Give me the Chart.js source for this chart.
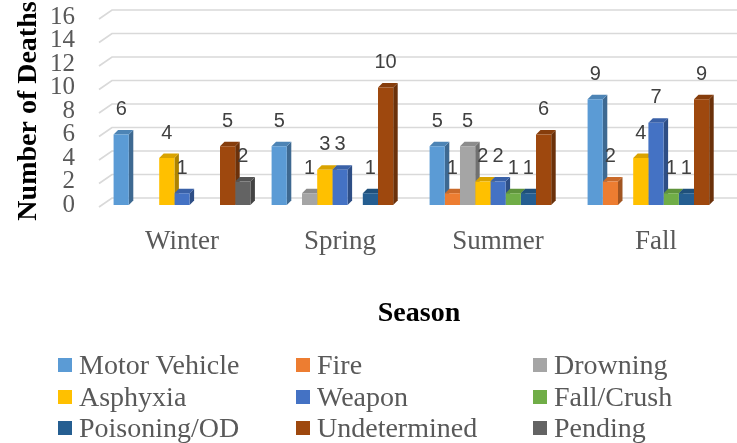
<!DOCTYPE html>
<html>
<head>
<meta charset="utf-8">
<script src="https://cdn.jsdelivr.net/npm/chart.js@4.4.1/dist/chart.umd.min.js"></script>
<style>
  html, body { margin: 0; padding: 0; background: #fff; }
  #wrap { position: relative; width: 737px; height: 443px; }
  #legend { position: absolute; left: 0; top: 0; width: 737px; height: 443px; pointer-events: none;
            font-family: 'Liberation Serif', 'Times New Roman', serif; font-size: 28px; color: #595959; }
  .item { position: absolute; height: 32px; line-height: 32px; white-space: nowrap; }
  .sw { position: absolute; left: 0; top: 9px; width: 14px; height: 14px; }
  .lbl { position: absolute; left: 21px; top: 0; }
</style>
</head>
<body>
<div id="wrap">
  <canvas id="c" width="737" height="443"></canvas>
  <div id="legend"></div>
</div>
<script>
const seasons = ['Winter', 'Spring', 'Summer', 'Fall'];
const causes = ['Motor Vehicle', 'Fire', 'Drowning', 'Asphyxia', 'Weapon',
                'Fall/Crush', 'Poisoning/OD', 'Undetermined', 'Pending'];
const colors = ['#5B9BD5', '#ED7D31', '#A5A5A5', '#FFC000', '#4472C4',
                '#70AD47', '#255E91', '#9E480E', '#636363'];

// deaths per season, null = no bar
const motorVehicle = [6, 5, 5, 9];
const fire         = [null, null, 1, 2];
const drowning     = [null, 1, 5, null];
const asphyxia     = [4, 3, 2, 4];
const weapon       = [1, 3, 2, 7];
const fallCrush    = [null, null, 1, 1];
const poisoning    = [null, 1, 1, 1];
const undetermined = [5, 10, 6, 9];
const pending      = [2, null, null, null];
const series = [motorVehicle, fire, drowning, asphyxia, weapon,
                fallCrush, poisoning, undetermined, pending];

const yTicks = [0, 2, 4, 6, 8, 10, 12, 14, 16];

const SERIF = "'Liberation Serif', 'Times New Roman', serif";
const D = 4.5; // bar depth

function shade(hex, f) {
  const n = parseInt(hex.slice(1), 16);
  const r = Math.round(((n >> 16) & 255) * f);
  const g = Math.round(((n >> 8) & 255) * f);
  const b = Math.round((n & 255) * f);
  return `rgb(${r},${g},${b})`;
}

// back-wall gridlines, then side/top faces of every bar;
// the front faces drawn by Chart.js afterwards cover the hidden parts
const depth3d = {
  id: 'depth3d',
  beforeDatasetsDraw(chart) {
    const { ctx } = chart;
    const ys = chart.scales.y;
    ctx.save();
    ctx.strokeStyle = '#d9d9d9';
    ctx.lineWidth = 1.7;
    yTicks.forEach(v => {
      const p = ys.getPixelForValue(v);
      ctx.beginPath();
      ctx.moveTo(99, p + 2);
      ctx.lineTo(112, p - 7);
      ctx.lineTo(737, p - 7);
      ctx.stroke();
    });
    chart.data.datasets.forEach((ds, i) => {
      chart.getDatasetMeta(i).data.forEach((bar, j) => {
        if (series[i][j] == null) return;
        const { x, y, base, width } = bar.getProps(['x', 'y', 'base', 'width'], true);
        const l = x - width / 2, r = x + width / 2;
        ctx.fillStyle = shade(colors[i], 0.68);
        ctx.beginPath();
        ctx.moveTo(r, y); ctx.lineTo(r + D, y - D);
        ctx.lineTo(r + D, base - D); ctx.lineTo(r, base);
        ctx.closePath(); ctx.fill();
        ctx.fillStyle = shade(colors[i], 0.85);
        ctx.beginPath();
        ctx.moveTo(l, y); ctx.lineTo(l + D, y - D);
        ctx.lineTo(r + D, y - D); ctx.lineTo(r, y);
        ctx.closePath(); ctx.fill();
      });
    });
    ctx.restore();
  }
};

const valueLabels = {
  id: 'valueLabels',
  afterDatasetsDraw(chart) {
    const { ctx } = chart;
    ctx.save();
    ctx.font = "20px 'Liberation Sans', Arial, sans-serif";
    ctx.fillStyle = '#404040';
    ctx.textAlign = 'center';
    ctx.textBaseline = 'middle';
    chart.data.datasets.forEach((ds, i) => {
      chart.getDatasetMeta(i).data.forEach((bar, j) => {
        const v = series[i][j];
        if (v == null) return;
        ctx.fillText(String(v), bar.x, bar.y - 25);
      });
    });
    ctx.restore();
  }
};

new Chart(document.getElementById('c'), {
  type: 'bar',
  data: {
    labels: seasons,
    datasets: causes.map((name, i) => ({
      label: name,
      data: series[i],
      backgroundColor: colors[i],
      borderWidth: 0,
      barPercentage: 1,
      categoryPercentage: 0.866,
    })),
  },
  options: {
    responsive: false,
    animation: false,
    devicePixelRatio: 1,
    layout: { padding: { top: 17, right: 2, bottom: 0, left: 0 } },
    plugins: { legend: { display: false }, tooltip: { enabled: false } },
    scales: {
      x: {
        grid: { display: false, drawTicks: false },
        border: { display: false },
        ticks: { color: '#595959', font: { family: SERIF, size: 27 }, padding: 21 },
        title: { display: true, text: 'Season', color: '#000',
                 font: { family: SERIF, size: 28, weight: 'bold' },
                 padding: { top: 0, bottom: 112 } },
        afterFit(s) { s.height = 238; },
      },
      y: {
        min: 0, max: 16,
        grid: { display: false, drawTicks: false },
        border: { display: false },
        ticks: { stepSize: 2, autoSkip: false, color: '#595959',
                 font: { family: SERIF, size: 25 }, padding: 28 },
        title: { display: true, text: 'Number of Deaths', color: '#000',
                 font: { family: SERIF, size: 28, weight: 'bold' },
                 padding: { top: 12, bottom: 0 } },
        afterFit(s) { s.width = 103; s.paddingTop = 10; s.paddingBottom = 10; },
      },
    },
  },
  plugins: [depth3d, valueLabels],
});

// legend: three fixed columns
const legCols = [58, 296, 533];
const legRows = [365, 397, 428];
const leg = document.getElementById('legend');
causes.forEach((name, i) => {
  const it = document.createElement('div');
  it.className = 'item';
  it.style.left = legCols[i % 3] + 'px';
  it.style.top = (legRows[Math.floor(i / 3)] - 16) + 'px';
  it.innerHTML = `<span class="sw" style="background:${colors[i]}"></span><span class="lbl">${name}</span>`;
  leg.appendChild(it);
});
</script>
</body>
</html>
